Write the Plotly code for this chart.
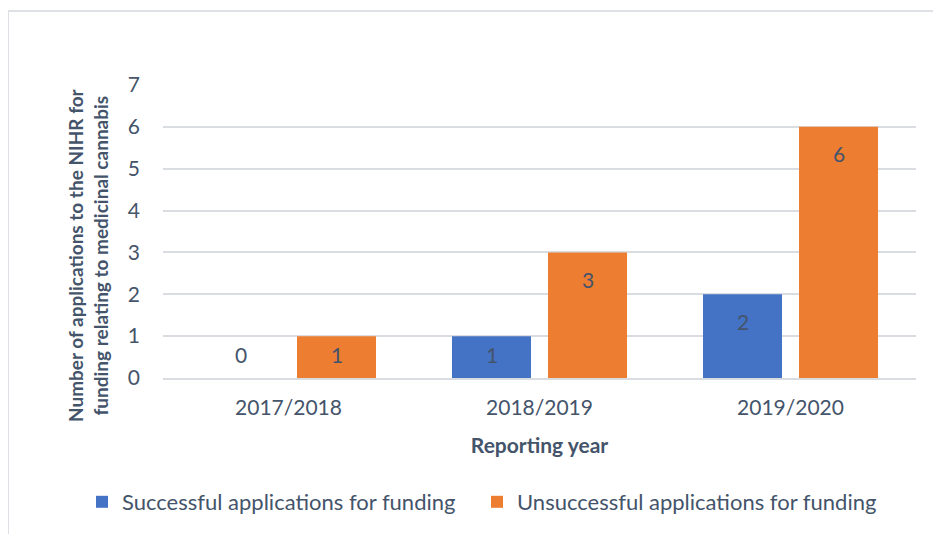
import plotly.graph_objects as go

years = ["2017/2018", "2018/2019", "2019/2020"]
successful = [0, 1, 2]
unsuccessful = [1, 3, 6]
series_names = ["Successful applications for funding", "Unsuccessful applications for funding"]
colors = ["#4472C4", "#ED7D31"]
y_ticks = [0, 1, 2, 3, 4, 5, 6, 7]

TXT = "#44546A"
FONT = "Lato, 'Open Sans', sans-serif"

# page body adds an 8px offset; figure is sized so the visible frame matches 941x534
W, H = 933, 526
L, R, T, B = 155, 25, 77, 156
PW, PH = W - L - R, H - T - B

fig = go.Figure()
for name, vals, col, lg in zip(series_names, [successful, unsuccessful], colors, ["legend", "legend2"]):
    fig.add_trace(go.Bar(x=years, y=vals, name=name, legend=lg,
                         marker=dict(color=col, line=dict(width=0))))

bargap = 0.235
bargroupgap = 0.177
half_slot = (1 - bargap) / 4
annotations = []
for k, vals in enumerate([successful, unsuccessful]):
    off = -half_slot if k == 0 else half_slot
    for i, v in enumerate(vals):
        annotations.append(dict(x=i + off, y=max(v - 0.64, 0.55), xref="x", yref="y", text=str(v),
                                showarrow=False, yanchor="middle",
                                font=dict(family=FONT, size=21, color=TXT)))

annotations.append(dict(
    text="<b>Number of applications to the NIHR for<br>funding relating to medicinal cannabis</b>",
    xref="paper", yref="paper", x=(80 - L) / PW, y=(PH - (247 - T)) / PH,
    xanchor="center", yanchor="middle", textangle=-90, showarrow=False,
    font=dict(family=FONT, size=19, color=TXT)))

leg_common = dict(orientation="h", xanchor="left", y=-(494 - T - PH) / PH, yanchor="middle",
                  font=dict(size=22, color=TXT), itemsizing="constant", bgcolor="rgba(0,0,0,0)")

fig.update_layout(
    width=W, height=H,
    margin=dict(l=L, r=R, t=T, b=B, autoexpand=False),
    paper_bgcolor="white", plot_bgcolor="white",
    barmode="group", bargap=bargap, bargroupgap=bargroupgap,
    font=dict(family=FONT, color=TXT),
    annotations=annotations,
    showlegend=True,
    legend=dict(x=(74 - L) / PW, **leg_common),
    legend2=dict(x=(469 - L) / PW, **leg_common),
    xaxis=dict(type="category", tickfont=dict(size=21, color=TXT), showgrid=False,
               showline=True, linecolor="#D9DCE1", linewidth=2, ticks="", ticklabelstandoff=10,
               title=dict(text="<b>Reporting year</b>", font=dict(size=21, color=TXT), standoff=20)),
    yaxis=dict(range=[0, 7], tickvals=y_ticks, tickfont=dict(size=21, color=TXT),
               showgrid=True, gridcolor="#D9DCE1", gridwidth=2, zeroline=False,
               ticks="", ticklabelstandoff=22),
    shapes=[dict(type="rect", xref="paper", yref="paper",
                 x0=(0 - L) / PW, x1=(960 - L) / PW,
                 y0=-(560 - T - PH) / PH, y1=(PH - (3 - T)) / PH,
                 line=dict(color="#DDE0E5", width=2), fillcolor="rgba(0,0,0,0)", layer="below")],
)

fig.write_html("out.html")
